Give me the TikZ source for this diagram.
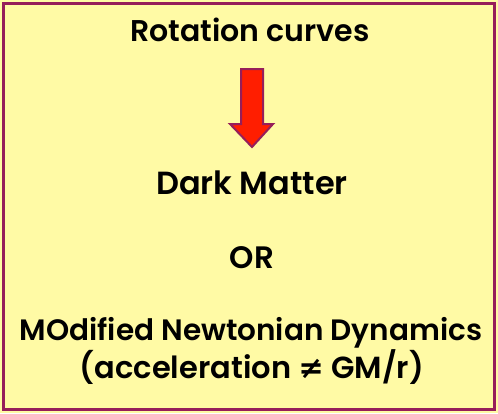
\documentclass[tikz,border=0pt]{standalone}
\usepackage{fontspec}
\setmainfont{Poppins}[BoldFont={* SemiBold}]
\newfontfamily\symfont{DejaVu Sans}
\definecolor{bgyellow}{RGB}{255,250,165}
\definecolor{maroon}{RGB}{150,30,90}
\definecolor{arrowred}{RGB}{255,30,0}
\begin{document}
\begin{tikzpicture}[x=1pt,y=-1pt,
  lbl/.style={font=\bfseries\fontsize{#1}{36}\selectfont, inner sep=0pt, anchor=center},
  lbl/.default=31]
\useasboundingbox (0,0) rectangle (498,413);
\fill[bgyellow] (0,0) rectangle (498,413);
\draw[maroon, line width=3pt] (3.5,3.5) rectangle (494.5,409.5);
\node[lbl=30] (rot) at (250,30) {Rotation curves};
\node[lbl=32] (dm) at (252,183) {Dark Matter};
\node[lbl=31] (or) at (252,258) {OR};
\node[lbl=29.5] (mond) at (251,333) {MOdified Newtonian Dynamics};
\node[lbl=30.5] (acc) at (252,367) {(acceleration {\symfont\bfseries ≠} GM/r)};
\draw[maroon, fill=arrowred, line width=2pt, line join=miter]
  (241,69) -- (263,69) -- (263,124) -- (273,124) -- (252,147) -- (230,124) -- (241,124) -- cycle;
\end{tikzpicture}
\end{document}
